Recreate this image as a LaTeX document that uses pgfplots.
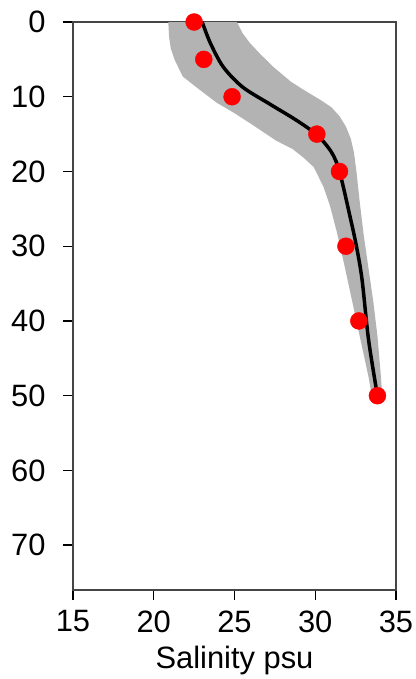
\documentclass[border=0pt]{standalone}
\usepackage{pgfplots}
\pgfplotsset{compat=1.18}
\usepackage{fontspec}
\setmainfont{Liberation Sans}
\definecolor{band}{RGB}{179,179,179}
\definecolor{axgray}{RGB}{70,70,70}
\begin{document}
\fontsize{31}{37}\selectfont
\begin{tikzpicture}
\begin{axis}[
  at={(0,0)}, anchor=south west,
  scale only axis, width=323bp, height=568bp,
  xmin=15, xmax=35, ymin=0, ymax=76,
  y dir=reverse,
  xtick={15,20,25,30,35}, ytick={0,10,20,30,40,50,60,70},
  tick align=outside, tickwidth=10bp,
  tick style={black, line width=1.4bp},
  xtick pos=bottom, ytick pos=left,
  axis line style={axgray, line width=1.3bp},
  /pgf/number format/assume math mode=true,
  ticklabel style={font=\fontsize{31}{37}\selectfont},
  yticklabel style={xshift=-7bp},
  xlabel={Salinity psu},
  xlabel style={font=\fontsize{31}{37}\selectfont, yshift=7bp},
  clip=false,
]
\addplot[fill=band, draw=none] coordinates {
(20.9,0) (20.95,2) (21.05,3.5) (21.3,5.1) (21.8,7.3) (22.8,9.0) (23.9,10.8) (25.0,12.2) (26.0,13.6) (27.6,15.9) (28.6,17.0) (29.3,18.2) (29.9,19.4) (30.5,22) (30.9,24.5) (31.35,28.2) (31.8,32.5) (32.3,37.5) (32.8,42.5) (33.3,47.5) (33.5,50)
(34.15,50) (34.05,47) (33.85,42) (33.6,37.5) (33.3,33) (33.0,28.5) (32.75,24) (32.55,20) (32.4,17.5) (32.2,15.6) (31.9,14.0) (31.5,12.6) (31.0,11.4) (30.3,10.4) (29.3,9.1) (28.5,8) (27.4,6) (26.6,4.3) (25.95,2.8) (25.5,1.5) (25.15,0)
} -- cycle;
\addplot[black, line width=3.5bp, smooth] coordinates {
(23.0,0) (23.5,2.8) (24.3,6) (25.5,8.7) (27.2,11.0) (28.8,13.1) (30.1,15.1) (31.0,17.4) (31.5,20) (32.15,26) (32.55,30) (32.9,34.5) (33.3,42.5) (33.85,50)
};
\addplot[only marks, mark=*, mark size=8.5bp, color=red, mark options={fill=red, draw=red}] coordinates {
(22.5,0) (23.1,5) (24.85,10) (30.1,15) (31.5,20) (31.9,30) (32.7,40) (33.85,50)
};
\end{axis}
\pgfresetboundingbox
\useasboundingbox (-73bp,-89bp) rectangle (343bp,590bp);
\end{tikzpicture}
\end{document}
